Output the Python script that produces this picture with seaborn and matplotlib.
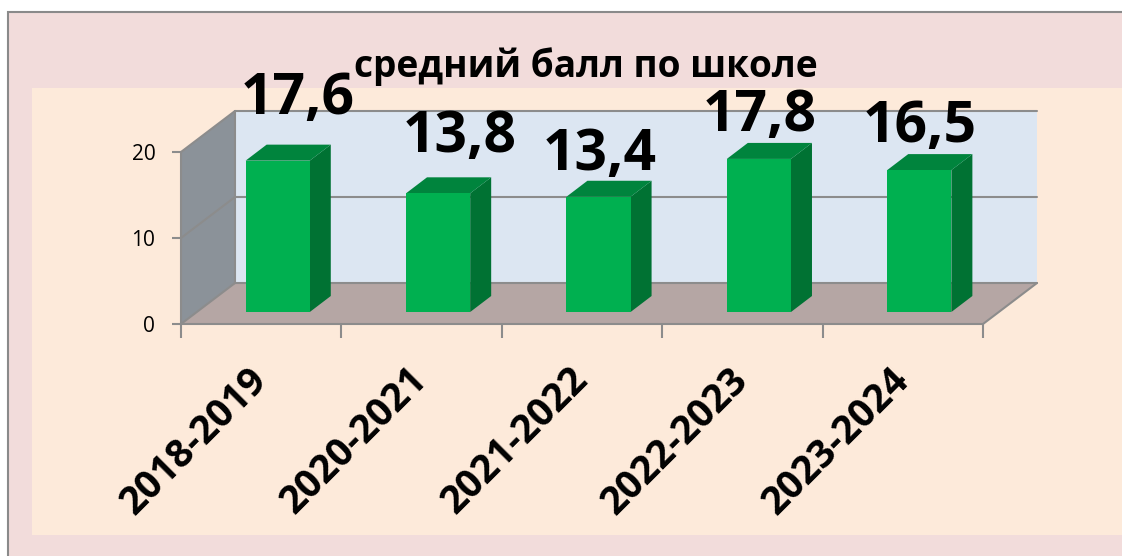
import matplotlib
matplotlib.use("Agg")
import matplotlib.pyplot as plt
from matplotlib.patches import Polygon, Rectangle
from matplotlib.lines import Line2D
from matplotlib.transforms import Affine2D, IdentityTransform
import numpy as np
import pandas as pd
import seaborn as sns

seasons = ["2018-2019", "2020-2021", "2021-2022", "2022-2023", "2023-2024"]
scores = [17.6, 13.8, 13.4, 17.8, 16.5]
score_labels = ["17,6", "13,8", "13,4", "17,8", "16,5"]
y_ticks = [0, 10, 20]
title_text = "средний балл по школе"

W, H = 1122, 556
FONT = "Open Sans"
PINK, CREAM = "#F2DCDB", "#FDEADA"
WALL, BACK, FLOOR = "#8B9299", "#DCE6F2", "#B5A6A4"
FRONT, SIDE, TOP = "#00B050", "#007233", "#00843D"
EDGE = "#8C8C8C"

sns.set_theme(style="white")
plt.rcParams["font.family"] = [FONT, "DejaVu Sans"]

fig = plt.figure(figsize=(W / 100, H / 100), dpi=100, facecolor="white")
ident = IdentityTransform()


def backdrop(x0, y0, x1, y1, **kw):
    fig.add_artist(Rectangle((x0, H - y1), x1 - x0, y1 - y0, transform=ident, **kw))


backdrop(8, 12, W + 5, H + 5, facecolor=PINK, edgecolor="#8A8A8A", linewidth=1.5, zorder=-3)
backdrop(32, 88, W + 5, 535, facecolor=CREAM, edgecolor="none", zorder=-2)

# front plane of the 3-D box maps onto the axes
ax = fig.add_axes([181 / W, (H - 324) / H, (983 - 181) / W, (324 - 152) / H])
ax.patch.set_visible(False)

df = pd.DataFrame({"season": seasons, "score": scores})
sns.barplot(data=df, x="season", y="score", color=FRONT, saturation=1, width=0.4, ax=ax,
            zorder=5, linewidth=0)
ax.set_xlim(-0.5, len(seasons) - 0.5)
ax.set_ylim(0, 20)
ax.set_xlabel("")
ax.set_ylabel("")
for s in ax.spines.values():
    s.set_visible(False)

# depth vectors, pixels
BOX_DX, BOX_DY = 54, 41
BAR_SHIFT = np.array([16.5, 12])
BAR_DEPTH = np.array([21, 16])


def to_px(x, y):
    return ax.transData.transform((x, y))


def poly(pts, **kw):
    ax.add_patch(Polygon(pts, closed=True, transform=ident, clip_on=False, **kw))


def seg(a, b, z=2):
    ax.add_line(Line2D([a[0], b[0]], [a[1], b[1]], transform=ident, color=EDGE, lw=1.5,
                       clip_on=False, zorder=z))


xmin, xmax = ax.get_xlim()
depth = np.array([BOX_DX, BOX_DY])
fl, fr = to_px(xmin, 0), to_px(xmax, 0)
tl, tr = to_px(xmin, 20), to_px(xmax, 20)
poly([fl + depth, fr + depth, tr + depth, tl + depth], facecolor=BACK, edgecolor="none", zorder=1)
poly([fl, tl, tl + depth, fl + depth], facecolor=WALL, edgecolor="none", zorder=1)
poly([fl, fr, fr + depth, fl + depth], facecolor=FLOOR, edgecolor="none", zorder=1)

for v in y_ticks:
    a, b = to_px(xmin, v), to_px(xmax, v)
    seg(a, a + depth)
    seg(a + depth, b + depth)
seg(fl, tl)
seg(fl + depth, tl + depth)
seg(fl, fr, 3)
seg(fr, fr + depth, 3)

# bars: shift the fronts into the box and add their side and top faces
shift = Affine2D().translate(*BAR_SHIFT)
label_nudge = [(20, 47), (22, 41), (1, 27), (1, 28), (0, 28)]
for bar, txt, (nx, ny) in zip(ax.patches[:len(seasons)], score_labels, label_nudge):
    x0, w, h = bar.get_x(), bar.get_width(), bar.get_height()
    bar.set_transform(ax.transData + shift)
    bar.set_clip_on(False)
    br = to_px(x0 + w, 0) + BAR_SHIFT
    tl_ = to_px(x0, h) + BAR_SHIFT
    tr_ = to_px(x0 + w, h) + BAR_SHIFT
    poly([br, tr_, tr_ + BAR_DEPTH, br + BAR_DEPTH], facecolor=SIDE, edgecolor="none", zorder=4)
    poly([tl_, tr_, tr_ + BAR_DEPTH, tl_ + BAR_DEPTH], facecolor=TOP, edgecolor="none", zorder=4)
    cx = (tl_[0] + tr_[0]) / 2 + nx
    ax.text(cx, tl_[1] + ny, txt, transform=ident, ha="center", va="baseline",
            fontsize=41, fontweight="bold", color="black", zorder=8, clip_on=False)

ax.set_xticks(range(len(seasons)))
ax.set_xticklabels(seasons, rotation=45, ha="right", va="center", rotation_mode="anchor",
                   fontsize=28, fontweight="bold", color="black")
ax.tick_params(axis="x", which="major", length=0, pad=36)
ax.set_xticks(np.arange(len(seasons) + 1) - 0.5, minor=True)
ax.tick_params(axis="x", which="minor", length=10, width=1.5, color=EDGE, bottom=True)
ax.set_yticks(y_ticks)
ax.set_yticklabels([str(v) for v in y_ticks], fontsize=15, color="black")
ax.tick_params(axis="y", length=6.5, width=1.5, color=EDGE, left=True, pad=12)

fig.text(585.5 / W, (H - 77) / H, title_text, ha="center", va="baseline",
         fontsize=26.7, fontweight="bold", color="black", zorder=9)

fig.savefig("out.png", dpi=100, facecolor="white")
